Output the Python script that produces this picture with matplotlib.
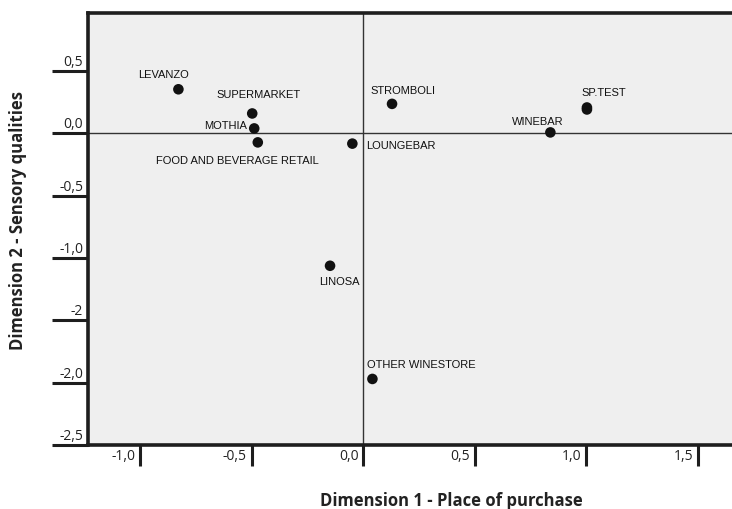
import matplotlib
matplotlib.use("Agg")
import matplotlib.pyplot as plt
from matplotlib import font_manager

# ---- data ----
names = ["LEVANZO", "SUPERMARKET", "MOTHIA", "FOOD AND BEVERAGE RETAIL", "LOUNGEBAR",
         "STROMBOLI", "SP.TEST", "", "WINEBAR", "LINOSA", "OTHER WINESTORE"]
dim1 = [-0.830, -0.499, -0.490, -0.474, -0.050, 0.128, 1.002, 1.002, 0.838, -0.150, 0.040]
dim2 = [0.354, 0.160, 0.040, -0.072, -0.082, 0.237, 0.208, 0.192, 0.008, -1.062, -1.970]
xticks = [-1.0, -0.5, 0.0, 0.5, 1.0, 1.5]
xticklabels = ["-1,0", "-0,5", "0,0", "0,5", "1,0", "1,5"]
yticks = [0.5, 0.0, -0.5, -1.0, -1.5, -2.0, -2.5]
yticklabels = ["0,5", "0,0", "-0,5", "-1,0", "-2", "-2,0", "-2,5"]
xlabel = "Dimension 1 - Place of purchase"
ylabel = "Dimension 2 - Sensory qualities"

# ---- label placement (pixel offsets, alignment) ----
label_style = {
    "LEVANZO": ((-15, 15), "center"),
    "SUPERMARKET": ((6, 19), "center"),
    "MOTHIA": ((-7, 3), "right"),
    "FOOD AND BEVERAGE RETAIL": ((-20, -18), "center"),
    "LOUNGEBAR": ((14, -1), "left"),
    "STROMBOLI": ((11, 14), "center"),
    "SP.TEST": ((-5, 15), "left"),
    "WINEBAR": ((-13, 11), "center"),
    "LINOSA": ((9, -15), "center"),
    "OTHER WINESTORE": ((-5, 15), "left"),
}

installed = {f.name for f in font_manager.fontManager.ttflist}
label_font = ["Liberation Sans Narrow", "DejaVu Sans"] if "Liberation Sans Narrow" in installed else ["Liberation Sans", "DejaVu Sans"]

W, H = 732, 510
fig = plt.figure(figsize=(W / 100, H / 100), dpi=100)
ax = fig.add_axes([88 / W, (H - 446) / H, 1 - 88 / W, (446 - 14) / H])
ax.set_facecolor("#efefef")

ax.set_xlim(-1.2354, 1.6525)
ax.set_ylim(-2.484, 0.966)

dark = "#1e1e1e"
for s in ["left", "top", "bottom"]:
    ax.spines[s].set_linewidth(2.6)
    ax.spines[s].set_color(dark)
ax.spines["right"].set_visible(False)

ax.axhline(0, color="#333333", lw=1.0, zorder=1)
ax.axvline(0, color="#333333", lw=1.0, zorder=1)

ax.scatter(dim1, dim2, s=58, color="#111111", zorder=3, edgecolors="none")

for n, x, y in zip(names, dim1, dim2):
    if not n:
        continue
    (dx, dy), ha = label_style[n]
    ax.annotate(n, xy=(x, y), xytext=(dx, dy), textcoords="offset pixels",
                ha=ha, va="center", fontsize=8, family=label_font, color="#111111")

# ticks
ax.set_xticks(xticks)
ax.set_yticks(yticks)
ax.set_xticklabels([])
ax.set_yticklabels([])
ax.tick_params(axis="x", direction="out", length=15, width=2.2, color=dark)
ax.tick_params(axis="y", direction="out", length=26, width=2.2, color=dark)

for v, lab in zip(xticks, xticklabels):
    ax.annotate(lab, xy=(v, 0), xycoords=("data", "axes fraction"),
                xytext=(-5, -11), textcoords="offset pixels", ha="right", va="center",
                fontsize=10, family=["Open Sans", "DejaVu Sans"], color="#222222",
                annotation_clip=False)
for v, lab in zip(yticks, yticklabels):
    ax.annotate(lab, xy=(0, v), xycoords=("axes fraction", "data"),
                xytext=(-5, 2), textcoords="offset pixels", ha="right", va="bottom",
                fontsize=10, family=["Open Sans", "DejaVu Sans"], color="#222222",
                annotation_clip=False)

fig.text(451 / W, 1 - 501 / H, xlabel, ha="center", va="center", fontsize=12,
         fontweight="bold", family=["Open Sans", "DejaVu Sans"], color="#222222")
fig.text(18 / W, 1 - 220 / H, ylabel, ha="center", va="center", rotation=90,
         fontsize=12, fontweight="bold", family=["Open Sans", "DejaVu Sans"], color="#222222")

fig.savefig("out.png", dpi=100)
